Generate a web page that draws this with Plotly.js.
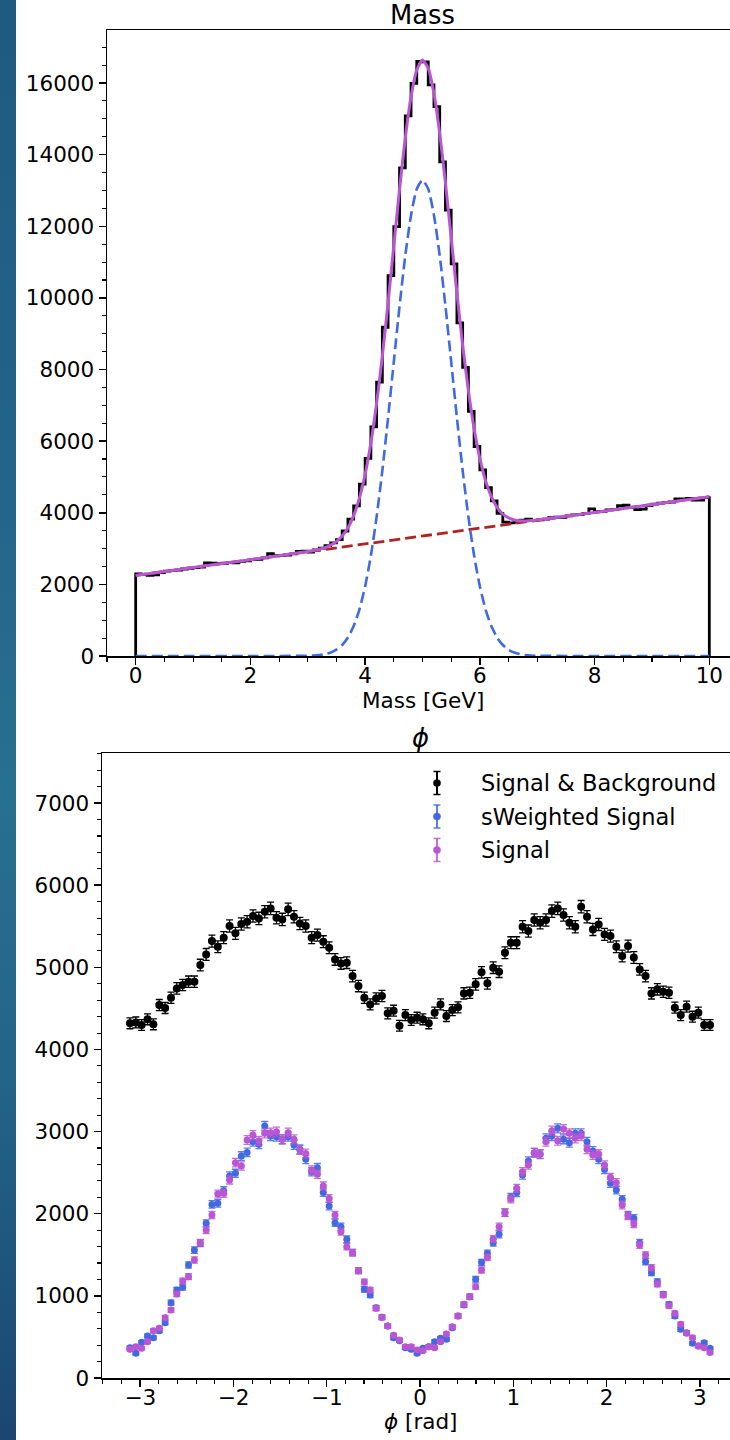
<!DOCTYPE html>
<html>
<head>
<meta charset="utf-8">
<script src="https://cdn.plot.ly/plotly-3.0.1.min.js"></script>
<style>
html, body { margin:0; padding:0; width:730px; height:1440px; overflow:hidden; background:#ffffff; }
#plot { position:absolute; left:0; top:0; width:760px; height:1440px; }
#strip { position:absolute; left:0; top:0; width:16px; height:1440px; z-index:10;
  background: linear-gradient(180deg, #1f5a80 0%, #22638a 30%, #28708f 55%, #236489 75%, #1a4670 100%); }
</style>
</head>
<body>
<div id="plot"></div>
<div id="strip"></div>
<script>
// ---------- Mass histogram (100 bins, 0..10 GeV) ----------
const massEdges = [0,0.1,0.2,0.3,0.4,0.5,0.6,0.7,0.8,0.9,1,1.1,1.2,1.3,1.4,1.5,1.6,1.7,1.8,1.9,2,2.1,2.2,2.3,2.4,2.5,2.6,2.7,2.8,2.9,3,3.1,3.2,3.3,3.4,3.5,3.6,3.7,3.8,3.9,4,4.1,4.2,4.3,4.4,4.5,4.6,4.7,4.8,4.9,5,5.1,5.2,5.3,5.4,5.5,5.6,5.7,5.8,5.9,6,6.1,6.2,6.3,6.4,6.5,6.6,6.7,6.8,6.9,7,7.1,7.2,7.3,7.4,7.5,7.6,7.7,7.8,7.9,8,8.1,8.2,8.3,8.4,8.5,8.6,8.7,8.8,8.9,9,9.1,9.2,9.3,9.4,9.5,9.6,9.7,9.8,9.9,10];
const massCounts = [2290,2275,2250,2265,2330,2370,2390,2400,2430,2450,
  2470,2480,2600,2590,2580,2590,2610,2600,2640,2660,
  2690,2700,2740,2860,2800,2810,2820,2850,2920,2930,
  2900,2960,3010,3080,3160,3250,3490,3820,4190,4800,
  5520,6400,7650,9180,10620,11990,13630,15080,15990,16600,
  16590,15950,15340,13800,12450,10950,9300,8060,6830,5850,
  5200,4700,4330,3980,3740,3720,3760,3790,3820,3780,
  3800,3820,3860,3880,3870,3910,3940,3950,3980,4110,
  4030,4040,4080,4090,4200,4210,4150,4090,4100,4200,
  4240,4270,4280,4300,4390,4390,4400,4350,4350,4420];

// fit curves
const fitX = [0,1,2,3.0,3.1,3.2,3.3,3.4,3.5,3.6,3.7,3.8,3.9,4.0,4.1,4.2,4.3,4.4,4.5,4.6,4.7,4.8,4.9,5.0,5.1,5.2,5.3,5.4,5.5,5.6,5.7,5.8,5.9,6.0,6.1,6.2,6.3,6.4,6.5,6.6,6.7,6.8,6.9,7.0,8,9,10];
const fitTotal = [2250,2470,2690,2916,2945,2980,3027,3095,3196,3349,3580,3921,4406,5074,5953,7057,8378,9871,11459,13033,14462,15613,16365,16640,16409,15701,14594,13209,11679,10135,8686,7409,6349,5514,4890,4449,4152,3965,3856,3799,3775,3772,3781,3796,4010,4230,4450];
const fitSignal = [0,0,0,6,13,26,51,97,176,307,516,835,1298,1944,2801,3883,5182,6653,8219,9771,11178,12307,13037,13290,13037,12307,11178,9771,8219,6653,5182,3883,2801,1944,1298,835,516,307,176,97,51,26,13,6,0,0,0];
const bkgX = [0,10];
const bkgY = [2250,4450];

// ---------- phi distributions ----------
const phiCenters = [-3.110,-3.047,-2.985,-2.922,-2.859,-2.796,-2.733,-2.670,-2.608,-2.545,
  -2.482,-2.419,-2.356,-2.293,-2.231,-2.168,-2.105,-2.042,-1.979,-1.916,
  -1.854,-1.791,-1.728,-1.665,-1.602,-1.539,-1.477,-1.414,-1.351,-1.288,
  -1.225,-1.162,-1.100,-1.037,-0.974,-0.911,-0.848,-0.785,-0.723,-0.660,
  -0.597,-0.534,-0.471,-0.408,-0.346,-0.283,-0.220,-0.157,-0.094,-0.031,
  0.031,0.094,0.157,0.220,0.283,0.346,0.408,0.471,0.534,0.597,
  0.660,0.723,0.785,0.848,0.911,0.974,1.037,1.100,1.162,1.225,
  1.288,1.351,1.414,1.477,1.539,1.602,1.665,1.728,1.791,1.854,
  1.916,1.979,2.042,2.105,2.168,2.231,2.293,2.356,2.419,2.482,
  2.545,2.608,2.670,2.733,2.796,2.859,2.922,2.985,3.047,3.110];
const phiSigBkg = [4318,4330,4298,4367,4306,4541,4505,4630,4744,4785,
  4825,4825,5028,5158,5320,5251,5361,5503,5414,5527,
  5556,5625,5596,5677,5718,5604,5584,5706,5617,5535,
  5503,5361,5393,5312,5239,5097,5048,5057,4894,4772,
  4630,4549,4622,4651,4440,4472,4290,4419,4359,4387,
  4367,4318,4448,4549,4407,4480,4513,4683,4691,4793,
  4939,4805,4996,4947,5178,5300,5300,5495,5442,5576,
  5544,5576,5685,5718,5637,5544,5495,5738,5617,5462,
  5523,5401,5381,5251,5138,5259,5121,4975,4894,4683,
  4732,4703,4691,4509,4419,4521,4399,4448,4298,4298];
const phiSWeighted = [369,300,434,511,491,576,674,917,1071,1104,
  1376,1558,1640,1883,2114,2127,2281,2459,2492,2703,
  2747,2877,2845,3068,2946,2938,2906,2938,2837,2784,
  2662,2512,2561,2260,2094,1891,1842,1688,1526,1307,
  1080,1011,856,739,633,491,455,369,349,300,
  361,382,442,483,471,613,755,889,990,1201,
  1408,1518,1648,1749,2013,2200,2256,2471,2642,2743,
  2723,2918,2946,3040,2906,2865,2979,2979,2877,2764,
  2662,2540,2370,2289,2175,1985,1944,1648,1416,1283,
  1173,1019,897,755,593,552,422,390,430,361];
const phiSignal = [349,382,361,442,576,605,735,828,1023,1181,
  1234,1437,1648,1802,1985,2240,2248,2411,2622,2581,
  2898,2958,2889,2979,2987,2999,2906,2987,2906,2776,
  2735,2532,2480,2338,2187,1985,1782,1599,1526,1307,
  1169,1071,848,739,633,520,463,382,382,341,
  333,382,369,442,536,625,755,897,990,1112,
  1315,1469,1692,1842,2013,2179,2309,2512,2593,2743,
  2727,2877,3011,2889,3031,2979,2918,2946,2784,2715,
  2727,2593,2443,2378,2106,1972,1875,1619,1498,1343,
  1145,1011,881,787,654,544,491,390,369,309];

const legendLabels = ['Signal & Background','sWeighted Signal','Signal'];
const seriesColors = ['#000000','#4169e1','#ba55d3'];
const errColors = ['#000000','rgba(65,105,225,0.85)','rgba(186,85,211,0.85)'];

// ---------- build traces ----------
const W = 760, H = 1440;
const histX = [massEdges[0]].concat(massEdges.slice(0, massCounts.length)).concat([massEdges[massEdges.length-1], massEdges[massEdges.length-1]]);
const histY = [0].concat(massCounts).concat([massCounts[massCounts.length-1], 0]);

const traces = [
  {x: histX, y: histY, xaxis:'x', yaxis:'y', mode:'lines', line:{shape:'hv', color:'#000000', width:2.8}, hoverinfo:'skip'},
  {x: fitX, y: fitSignal, xaxis:'x', yaxis:'y', mode:'lines', line:{shape:'spline', smoothing:0.6, color:'#4169e1', width:2.6, dash:'11px,5px'}},
  {x: bkgX, y: bkgY, xaxis:'x', yaxis:'y', mode:'lines', line:{color:'#b22222', width:2.8, dash:'11px,5px'}},
  {x: fitX, y: fitTotal, xaxis:'x', yaxis:'y', mode:'lines', line:{shape:'spline', smoothing:0.6, color:'#ba55d3', width:3}},
];
const phiSeries = [phiSigBkg, phiSWeighted, phiSignal];
phiSeries.forEach((ys, k) => {
  traces.push({x: phiCenters, y: ys, xaxis:'x2', yaxis:'y2', mode:'markers',
    marker:{color: seriesColors[k], size: k === 0 ? 8 : 7},
    error_y:{type:'sqrt', visible:true, color: errColors[k], thickness:1.3, width:3.5}});
});

const font = {family:'"DejaVu Sans", sans-serif', color:'#000000'};
function axisBase(extra) {
  return Object.assign({
    showline:true, linecolor:'#000000', linewidth:1.5, mirror:true,
    ticks:'outside', ticklen:7, tickwidth:1.5, tickcolor:'#000000',
    showgrid:false, zeroline:false, fixedrange:true,
    tickfont:{family:font.family, size:21.5, color:'#000000'},
  }, extra);
}
function minor(dt) { return {dtick:dt, tick0:0, ticks:'outside', ticklen:4, tickwidth:1.1, tickcolor:'#000000', showgrid:false}; }

const ann = [];
function txt(text, px, py, size, xanchor) {
  ann.push({text:text, x:px/W, y:1-py/H, xref:'paper', yref:'paper', showarrow:false,
    xanchor:xanchor||'center', yanchor:'middle', font:{family:font.family, size:size, color:'#000000'}});
}
txt('Mass', 422.5, 15, 25.8);
txt('Mass [GeV]', 422.5, 700, 21.5);
txt('<i>ϕ</i>', 420, 738, 25.8);
txt('<i>ϕ</i> [rad]', 420, 1421, 21.5);

// custom legend with errorbar glyphs
const shapes = [];
legendLabels.forEach((lab, k) => {
  const cy = 783 + 33.5*k, cx = 437;
  txt(lab, 479, cy, 22.5, 'left');
  const px = v => v/W, py = v => 1 - v/H;
  shapes.push({type:'line', xref:'paper', yref:'paper', x0:px(cx), x1:px(cx), y0:py(cy-11.5), y1:py(cy+11.5), line:{color:errColors[k], width:2}});
  shapes.push({type:'line', xref:'paper', yref:'paper', x0:px(cx-3.5), x1:px(cx+3.5), y0:py(cy-11.5), y1:py(cy-11.5), line:{color:errColors[k], width:1.5}});
  shapes.push({type:'line', xref:'paper', yref:'paper', x0:px(cx-3.5), x1:px(cx+3.5), y0:py(cy+11.5), y1:py(cy+11.5), line:{color:errColors[k], width:1.5}});
  shapes.push({type:'circle', xref:'paper', yref:'paper', x0:px(cx-3.6), x1:px(cx+3.6), y0:py(cy-3.6), y1:py(cy+3.6), fillcolor:seriesColors[k], line:{color:seriesColors[k], width:0.5}});
});

const layout = {
  width: W, height: H,
  margin:{l:0, r:0, t:0, b:0, pad:0},
  paper_bgcolor:'#ffffff', plot_bgcolor:'#ffffff',
  showlegend:false, font: font,
  xaxis: axisBase({domain:[107/W, 738/W], range:[-0.5, 10.5], anchor:'y', dtick:2, tick0:0, minor:minor(0.5), layer:'below traces', ticklabelstandoff:-7}),
  yaxis: axisBase({domain:[1-656/H, 1-30/H], range:[0, 17480], anchor:'x', dtick:2000, tick0:0, tickformat:'d', minor:minor(500)}),
  xaxis2: axisBase({domain:[102/W, 738/W], range:[-3.41, 3.41], anchor:'y2', dtick:1, tick0:0, minor:minor(0.2), ticklabelstandoff:-7}),
  yaxis2: axisBase({domain:[1-1378/H, 1-753/H], range:[0, 7610], anchor:'x2', dtick:1000, tick0:0, tickformat:'d', minor:minor(200)}),
  annotations: ann,
  shapes: shapes
};

Plotly.newPlot('plot', traces, layout, {displayModeBar:false, staticPlot:true});
</script>
</body>
</html>
